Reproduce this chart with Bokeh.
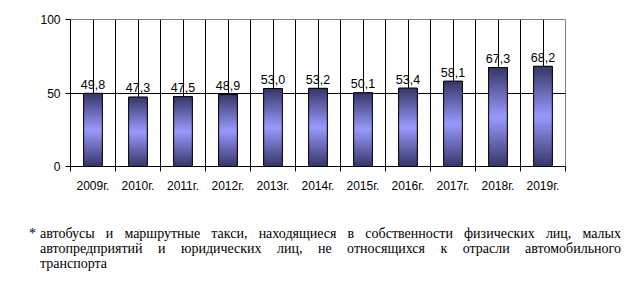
from bokeh.plotting import figure
from bokeh.models import Range1d, FixedTicker, ColumnDataSource, Div
from bokeh.layouts import column
from bokeh.embed import file_html
from bokeh.resources import INLINE
from bokeh.core.properties import value

# ---- data ----
years = ["2009г.", "2010г.", "2011г.", "2012г.", "2013г.", "2014г.",
         "2015г.", "2016г.", "2017г.", "2018г.", "2019г."]
values = [49.8, 47.3, 47.5, 48.9, 53.0, 53.2, 50.1, 53.4, 58.1, 67.3, 68.2]
y_ticks = [0, 50, 100]
footnote_lines = [
    "автобусы и маршрутные такси, находящиеся в собственности физических лиц, малых",
    "автопредприятий и юридических лиц, не относящихся к отрасли автомобильного",
    "транспорта",
]

n = len(values)
xc = [i + 0.5 for i in range(n)]
labels = [f"{v:.1f}".replace(".", ",") for v in values]

dark = (0x36, 0x36, 0x66)
light = (0x99, 0x99, 0xFF)
N = 40

def mix(t):
    return "#%02x%02x%02x" % tuple(int(round(d + (l - d) * t)) for d, l in zip(dark, light))

gx, gb, gt, gc = [], [], [], []
for x, v in zip(xc, values):
    for k in range(N):
        f0, f1 = k / N, (k + 1) / N
        fm = (f0 + f1) / 2
        t = 1 - abs(2 * fm - 1)
        gx.append(x)
        gb.append(v * f0)
        gt.append(v)
        gc.append(mix(t))

p = figure(width=633, height=200, output_backend="svg", toolbar_location=None,
           x_range=Range1d(0, n), y_range=Range1d(0, 100),
           min_border_left=70, min_border_right=68, min_border_top=19,
           min_border_bottom=34)
p.background_fill_color = "white"
p.border_fill_color = "white"
p.outline_line_color = "#808080"

p.xgrid.ticker = FixedTicker(ticks=[i for i in range(1, n)] + xc)
p.xgrid.grid_line_color = "black"
p.xgrid.grid_line_width = 1
p.ygrid.ticker = FixedTicker(ticks=[50])
p.ygrid.grid_line_color = "black"

src = ColumnDataSource(dict(x=gx, bottom=gb, top=gt, color=gc))
p.vbar(x="x", bottom="bottom", top="top", width=0.415, source=src,
       fill_color="color", line_color=None)
bsrc = ColumnDataSource(dict(x=xc, top=values, label=labels))
p.vbar(x="x", top="top", bottom=0, width=0.415, source=bsrc,
       fill_alpha=0, line_color="black", line_width=1)

p.text(x="x", y="top", text="label", source=bsrc, text_align="center",
       text_baseline="alphabetic", y_offset=-9, text_font=value("Liberation Sans"),
       text_font_size="12.5px", text_color="black")

xa = p.xaxis[0]
xa.ticker = FixedTicker(ticks=xc, minor_ticks=list(range(0, n + 1)))
xa.major_label_overrides = {x: y for x, y in zip(xc, years)}
xa.major_tick_line_color = None
xa.major_tick_out = 0
xa.major_tick_in = 0
xa.minor_tick_out = 5
xa.minor_tick_in = 0
xa.minor_tick_line_color = "black"
xa.axis_line_color = "black"
xa.major_label_standoff = 7
xa.major_label_text_font = "Liberation Sans"
xa.major_label_text_font_size = "12px"
xa.major_label_text_color = "black"

ya = p.yaxis[0]
ya.ticker = FixedTicker(ticks=y_ticks)
ya.major_tick_out = 5
ya.major_tick_in = 0
ya.minor_tick_line_color = None
ya.major_tick_line_color = "black"
ya.axis_line_color = "black"
ya.major_label_standoff = 5
ya.major_label_text_font = "Liberation Sans"
ya.major_label_text_font_size = "12px"
ya.major_label_text_color = "black"

# ---- footnote (justified HTML text) ----
font = "&quot;Liberation Serif&quot;, &quot;Liberation Sans&quot;, sans-serif"
line_style = (f"font-family:{font};font-size:14px;line-height:15px;"
              "white-space:nowrap;color:black;")
html = '<div style="position:relative;margin-left:35px;width:581px;margin-top:21px;">'
html += '<span style="position:absolute;left:-11px;top:0;' + line_style + '">*</span>'
for i, ln in enumerate(footnote_lines):
    just = ("text-align:justify;text-align-last:justify;"
            if i < len(footnote_lines) - 1 else "text-align:left;")
    html += f'<div style="{line_style}{just}">{ln}</div>'
html += '</div>'

div = Div(text=html, width=633, height=84)

layout = column(p, div, spacing=0)
open("out.html", "w").write(file_html(layout, INLINE))
